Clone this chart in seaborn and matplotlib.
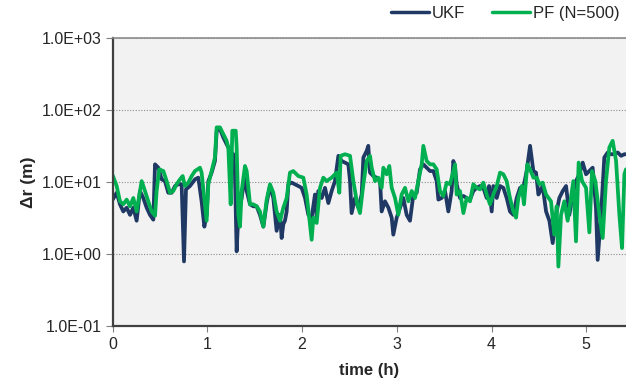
import matplotlib
matplotlib.use("Agg")
import matplotlib.pyplot as plt
import seaborn as sns
import pandas as pd
from matplotlib.ticker import FuncFormatter, NullLocator

# ---- data ----
ukf_t = [0.0, 0.042, 0.077, 0.112, 0.148, 0.183, 0.218, 0.253, 0.288, 0.323, 0.359, 0.394, 0.429,
         0.447, 0.482, 0.517, 0.552, 0.587, 0.623, 0.658, 0.693, 0.728, 0.753, 0.774, 0.816, 0.869,
         0.904, 0.939, 0.968, 0.992, 1.010, 1.045, 1.080, 1.098, 1.133, 1.168, 1.203, 1.239, 1.274,
         1.291, 1.309, 1.327, 1.362, 1.397, 1.415, 1.450, 1.485, 1.520, 1.555, 1.591, 1.626, 1.661,
         1.696, 1.731, 1.767, 1.784, 1.802, 1.819, 1.837, 1.855, 1.890, 1.925, 1.960, 1.995, 2.031,
         2.066, 2.101, 2.136, 2.154, 2.171, 2.207, 2.242, 2.277, 2.312, 2.347, 2.383, 2.418, 2.453,
         2.488, 2.506, 2.523, 2.559, 2.594, 2.629, 2.647, 2.682, 2.699, 2.717, 2.752, 2.787, 2.823,
         2.840, 2.875, 2.911, 2.946, 2.963, 2.999, 3.034, 3.069, 3.104, 3.139, 3.175, 3.210, 3.245,
         3.280, 3.315, 3.351, 3.386, 3.421, 3.439, 3.474, 3.509, 3.544, 3.579, 3.597, 3.615, 3.632,
         3.667, 3.703, 3.738, 3.773, 3.808, 3.843, 3.879, 3.914, 3.949, 3.974, 4.002, 4.019, 4.055,
         4.090, 4.125, 4.160, 4.195, 4.231, 4.266, 4.301, 4.336, 4.371, 4.407, 4.442, 4.470, 4.495,
         4.505, 4.540, 4.576, 4.611, 4.646, 4.681, 4.716, 4.752, 4.787, 4.822, 4.857, 4.892, 4.927,
         4.963, 4.998, 5.033, 5.068, 5.103, 5.121, 5.156, 5.191, 5.227, 5.262, 5.297, 5.332, 5.368,
         5.403, 5.420]
ukf_v = [5.7, 7.1, 4.9, 3.9, 4.4, 3.5, 4.4, 2.9, 7.5, 6.0, 4.4, 3.5, 3.0,
         17.6, 15.8, 10.9, 10.3, 7.1, 7.1, 8.8, 9.3, 9.3, 0.79, 7.9, 8.8, 10.9,
         11.5, 5.4, 2.4, 3.5, 10.3, 13.5, 19.6, 51.5, 54.4, 41.6, 33.5, 27.1, 24.3,
         12.8, 1.09, 3.5, 6.0, 13.5, 7.5, 4.9, 4.6, 4.6, 3.5, 2.4, 5.1, 8.8,
         6.0, 2.1, 3.5, 1.67, 2.6, 2.9, 3.9, 9.3, 9.8, 9.3, 8.8, 8.3, 6.0,
         3.5, 3.2, 6.7, 3.2, 7.5, 6.0, 8.3, 5.1, 7.5, 10.3, 23.1, 19.6, 18.6,
         17.6, 10.3, 3.7, 6.0, 4.4, 6.7, 21.9, 27.1, 31.8, 13.5, 12.1, 11.5, 10.3,
         3.9, 5.4, 4.4, 3.2, 1.86, 3.2, 4.4, 6.0, 3.5, 2.9, 6.7, 7.1, 15.0,
         17.6, 15.8, 14.2, 14.2, 10.3, 5.7, 6.0, 7.5, 3.9, 7.5, 19.6, 15.8, 9.3,
         6.0, 6.4, 6.0, 5.7, 7.5, 8.3, 8.8, 8.3, 6.0, 8.8, 3.9, 8.8, 6.0,
         8.8, 8.3, 6.0, 3.9, 3.5, 6.0, 8.3, 8.3, 14.2, 31.8, 14.2, 13.5, 6.7,
         7.1, 8.8, 3.9, 2.9, 1.42, 3.5, 6.0, 7.5, 8.8, 3.5, 6.7, 10.3, 12.8,
         18.6, 12.8, 14.2, 15.8, 4.4, 0.83, 3.5, 21.9, 25.7, 24.3, 24.3, 25.7, 23.1,
         24.3, 24.3]

pf_t = [0.0, 0.042, 0.077, 0.112, 0.148, 0.183, 0.218, 0.253, 0.306, 0.341, 0.376, 0.411, 0.447,
        0.464, 0.492, 0.535, 0.570, 0.605, 0.640, 0.675, 0.711, 0.739, 0.763, 0.799, 0.834, 0.869,
        0.922, 0.939, 0.992, 1.010, 1.045, 1.080, 1.098, 1.133, 1.168, 1.203, 1.221, 1.246, 1.263,
        1.299, 1.309, 1.327, 1.344, 1.362, 1.397, 1.415, 1.450, 1.485, 1.520, 1.555, 1.591, 1.626,
        1.661, 1.696, 1.731, 1.767, 1.802, 1.837, 1.872, 1.907, 1.960, 2.013, 2.048, 2.083, 2.101,
        2.119, 2.154, 2.189, 2.224, 2.259, 2.312, 2.365, 2.393, 2.407, 2.453, 2.506, 2.541, 2.583,
        2.611, 2.647, 2.682, 2.717, 2.735, 2.770, 2.805, 2.840, 2.858, 2.893, 2.921, 2.946, 2.981,
        3.016, 3.051, 3.087, 3.122, 3.157, 3.192, 3.227, 3.263, 3.280, 3.315, 3.351, 3.386, 3.421,
        3.456, 3.491, 3.527, 3.562, 3.597, 3.615, 3.632, 3.667, 3.703, 3.738, 3.773, 3.808, 3.843,
        3.879, 3.914, 3.949, 3.984, 4.019, 4.055, 4.090, 4.125, 4.160, 4.195, 4.231, 4.259, 4.283,
        4.319, 4.343, 4.378, 4.407, 4.442, 4.477, 4.505, 4.540, 4.576, 4.628, 4.663, 4.688, 4.706,
        4.734, 4.769, 4.804, 4.839, 4.864, 4.892, 4.920, 4.956, 4.998, 5.033, 5.061, 5.096, 5.139,
        5.174, 5.209, 5.244, 5.279, 5.315, 5.350, 5.378, 5.403, 5.420]
pf_v = [12.4, 8.8, 5.4, 4.9, 5.7, 4.6, 6.0, 3.9, 10.3, 7.5, 5.4, 3.9, 3.4,
        7.5, 15.0, 14.2, 10.3, 7.1, 7.5, 9.3, 10.9, 12.1, 8.8, 9.8, 12.1, 14.2,
        15.8, 13.5, 2.9, 9.3, 14.2, 21.9, 57.3, 57.3, 46.3, 37.3, 30.1, 4.9, 51.5,
        51.5, 30.1, 3.5, 2.4, 7.5, 16.7, 14.2, 4.9, 4.9, 4.6, 3.9, 2.4, 5.7,
        9.3, 7.1, 3.9, 2.9, 4.4, 6.0, 13.5, 14.2, 12.1, 11.5, 6.7, 2.6, 1.58,
        3.2, 2.7, 8.3, 11.5, 10.3, 11.5, 13.5, 7.1, 23.1, 24.3, 23.1, 10.3, 4.9,
        3.7, 9.3, 19.6, 23.1, 15.8, 10.3, 11.5, 8.3, 15.8, 12.8, 16.7, 8.3, 6.0,
        3.5, 6.7, 8.3, 5.4, 7.5, 6.0, 10.3, 17.6, 31.8, 19.6, 17.6, 17.6, 15.0,
        7.5, 6.4, 9.8, 9.3, 14.2, 17.6, 6.7, 7.5, 3.7, 6.0, 5.4, 9.3, 8.3,
        7.9, 9.8, 6.7, 4.9, 6.7, 8.8, 13.5, 12.8, 10.3, 6.0, 3.9, 3.2, 6.0,
        8.8, 4.9, 17.6, 15.0, 11.5, 11.5, 9.3, 9.8, 6.7, 5.4, 1.86, 4.6, 0.67,
        3.5, 5.4, 2.9, 6.0, 10.3, 1.50, 18.6, 10.3, 8.3, 2.0, 14.2, 10.3, 3.5,
        1.67, 10.3, 30.1, 37.3, 19.6, 3.5, 1.21, 12.8, 15.0]

series_names = ["UKF", "PF (N=500)"]
series_colors = ["#1f3864", "#00b050"]
y_ticks = [0.1, 1, 10, 100, 1000]
x_ticks = [0, 1, 2, 3, 4, 5]

df = pd.concat([
    pd.DataFrame({"time": ukf_t, "dr": ukf_v, "series": series_names[0]}),
    pd.DataFrame({"time": pf_t, "dr": pf_v, "series": series_names[1]}),
], ignore_index=True)

# ---- style ----
sns.set_style("white")
plt.rcParams["font.family"] = ["Liberation Sans", "DejaVu Sans"]

fig = plt.figure(figsize=(6.26, 3.91), dpi=100)
ax = fig.add_axes([0.180, 0.166, 0.820, 0.737])
ax.set_facecolor("#f2f2f2")

sns.lineplot(data=df, x="time", y="dr", hue="series", hue_order=series_names,
             palette=dict(zip(series_names, series_colors)), estimator=None,
             sort=True, linewidth=2.7, ax=ax, legend=True)
for ln in ax.get_lines():
    ln.set_solid_joinstyle("round")

ax.set_yscale("log")
ax.set_ylim(0.1, 1000)
ax.set_xlim(0, 5.42)
ax.set_yticks(y_ticks)
ax.yaxis.set_minor_locator(NullLocator())
ax.yaxis.set_major_formatter(FuncFormatter(lambda v, p: f"{v:.1E}"))
ax.set_xticks(x_ticks)
ax.set_xticklabels([str(x) for x in x_ticks])

ax.grid(axis="y", which="major", color="#8c8c8c", linestyle=(0, (1, 1.5)), linewidth=0.8)
ax.grid(axis="x", visible=False)
ax.set_axisbelow(True)

for side in ["left", "bottom"]:
    ax.spines[side].set_color("#404040")
    ax.spines[side].set_linewidth(1.6)
ax.spines["top"].set_color("#8c8c8c")
ax.spines["top"].set_linewidth(1.2)
ax.spines["right"].set_visible(False)

ax.tick_params(axis="y", which="major", direction="out", length=5, width=0.8,
               color="#808080", labelsize=11.5, pad=3, left=True)
ax.tick_params(axis="x", which="major", direction="out", length=4, width=0.8,
               color="#808080", labelsize=11.5, pad=4, bottom=True)

ax.set_xlabel("time (h)", fontsize=12, fontweight="bold", labelpad=8)
ax.set_ylabel("Δr (m)", fontsize=12.5, fontweight="bold", labelpad=4)

handles, labels = ax.get_legend_handles_labels()
ax.get_legend().remove()
for h in handles:
    h.set_linewidth(2.5)
fig.legend(handles, labels, loc="upper right", bbox_to_anchor=(1.005, 1.01), ncol=2,
           frameon=False, fontsize=12, handlelength=2.3, handletextpad=0.15,
           columnspacing=1.6, borderaxespad=0.2)

fig.savefig("out.png", dpi=100)
